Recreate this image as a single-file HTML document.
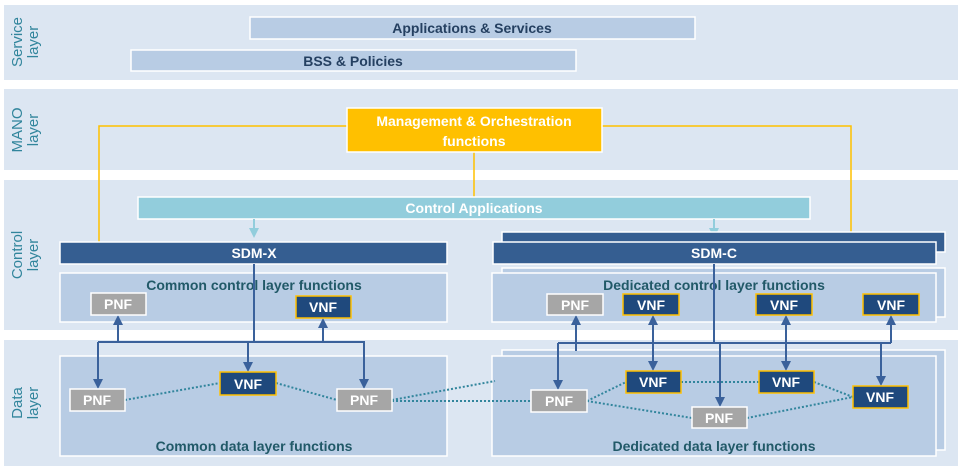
<!DOCTYPE html>
<html><head><meta charset="utf-8"><style>body{margin:0;background:#fff}svg{display:block}</style></head><body>
<svg width="962" height="470" viewBox="0 0 962 470" xmlns="http://www.w3.org/2000/svg" font-family="Liberation Sans, sans-serif" font-weight="bold">
<defs>
<marker id="a" markerWidth="10" markerHeight="10" refX="5" refY="5" orient="auto-start-reverse" markerUnits="userSpaceOnUse" viewBox="0 0 10 10"><path d="M0,0 L10,5 L0,10 z" fill="#3A619B"/></marker>
<marker id="b" markerWidth="10" markerHeight="10" refX="5" refY="5" orient="auto" markerUnits="userSpaceOnUse" viewBox="0 0 10 10"><path d="M0,0 L10,5 L0,10 z" fill="#92CDDC"/></marker>
</defs>
<rect x="4" y="5" width="954" height="75" fill="#DCE6F2"/>
<rect x="4" y="89" width="954" height="81" fill="#DCE6F2"/>
<rect x="4" y="180" width="954" height="150" fill="#DCE6F2"/>
<rect x="4" y="340" width="954" height="126" fill="#DCE6F2"/>
<g fill="#31859C" font-size="15" font-weight="normal" text-anchor="middle">
<text transform="translate(22,42) rotate(-90)">Service</text><text transform="translate(38,42) rotate(-90)">layer</text>
<text transform="translate(22,130) rotate(-90)">MANO</text><text transform="translate(38,130) rotate(-90)">layer</text>
<text transform="translate(22,255) rotate(-90)">Control</text><text transform="translate(38,255) rotate(-90)">layer</text>
<text transform="translate(22,403) rotate(-90)">Data</text><text transform="translate(38,403) rotate(-90)">layer</text>
</g>
<rect x="250" y="17" width="445" height="22" fill="#B8CCE4" stroke="#fff" stroke-width="1.5"/>
<text x="472" y="33" font-size="14" fill="#254061" text-anchor="middle">Applications &amp; Services</text>
<rect x="131" y="50" width="445" height="21" fill="#B8CCE4" stroke="#fff" stroke-width="1.5"/>
<text x="353" y="66" font-size="14" fill="#254061" text-anchor="middle">BSS &amp; Policies</text>
<polyline points="347,126 99,126 99,242" fill="none" stroke="#FFC000" stroke-width="1.5"/>
<polyline points="602,126 851,126 851,242" fill="none" stroke="#FFC000" stroke-width="1.5"/>
<line x1="474" y1="152" x2="474" y2="197" stroke="#FFC000" stroke-width="1.5"/>
<rect x="347" y="108" width="255" height="44" fill="#FFC000" stroke="#fff" stroke-width="1.5"/>
<text x="474" y="126" font-size="14" fill="#fff" text-anchor="middle">Management &amp; Orchestration</text>
<text x="474" y="146" font-size="14" fill="#fff" text-anchor="middle">functions</text>
<rect x="138" y="197" width="672" height="22" fill="#92CDDC" stroke="#fff" stroke-width="1.5"/>
<text x="474" y="213" font-size="14" fill="#fff" text-anchor="middle">Control Applications</text>
<line x1="254" y1="219" x2="254" y2="233" stroke="#92CDDC" stroke-width="2" marker-end="url(#b)"/>
<line x1="714" y1="219" x2="714" y2="233" stroke="#92CDDC" stroke-width="2" marker-end="url(#b)"/>
<rect x="502" y="232" width="443" height="20" fill="#355E91" stroke="#fff" stroke-width="1.5"/>
<rect x="60" y="242" width="387" height="22" fill="#355E91" stroke="#fff" stroke-width="1.5"/>
<text x="254" y="258" font-size="14" fill="#fff" text-anchor="middle">SDM-X</text>
<rect x="493" y="242" width="443" height="22" fill="#355E91" stroke="#fff" stroke-width="1.5"/>
<text x="714" y="258" font-size="14" fill="#fff" text-anchor="middle">SDM-C</text>
<rect x="60" y="273" width="387" height="49" fill="#B8CCE4" stroke="#fff" stroke-width="1.5"/>
<text x="254" y="290" font-size="14" fill="#215968" text-anchor="middle">Common control layer functions</text>
<rect x="502" y="268" width="443" height="49" fill="#B8CCE4" stroke="#fff" stroke-width="1.5"/>
<rect x="492" y="273" width="444" height="49" fill="#B8CCE4" stroke="#fff" stroke-width="1.5"/>
<text x="714" y="290" font-size="14" fill="#215968" text-anchor="middle">Dedicated control layer functions</text>
<rect x="60" y="356" width="387" height="100" fill="#B8CCE4" stroke="#fff" stroke-width="1.5"/>
<text x="254" y="451" font-size="14" fill="#215968" text-anchor="middle">Common data layer functions</text>
<rect x="502" y="350" width="443" height="100" fill="#B8CCE4" stroke="#fff" stroke-width="1.5"/>
<rect x="492" y="356" width="444" height="100" fill="#B8CCE4" stroke="#fff" stroke-width="1.5"/>
<text x="714" y="451" font-size="14" fill="#215968" text-anchor="middle">Dedicated data layer functions</text>
<g stroke="#31859C" stroke-width="2" stroke-dasharray="2,2" fill="none">
<line x1="125" y1="400" x2="220" y2="383"/>
<line x1="276" y1="383" x2="337" y2="400"/>
<line x1="392" y1="401" x2="531" y2="401"/>
<line x1="392" y1="400" x2="495" y2="381"/>
<line x1="587" y1="401" x2="626" y2="382"/>
<line x1="587" y1="401" x2="692" y2="418"/>
<line x1="681" y1="382" x2="759" y2="382"/>
<line x1="814" y1="382" x2="853" y2="397"/>
<line x1="747" y1="418" x2="853" y2="397"/>
</g>
<g stroke="#3A619B" stroke-width="2" fill="none">
<line x1="254" y1="264" x2="254" y2="342"/>
<line x1="98" y1="342" x2="365" y2="342"/>
<line x1="118" y1="342" x2="118" y2="320" marker-end="url(#a)"/>
<line x1="323" y1="342" x2="323" y2="323" marker-end="url(#a)"/>
<line x1="98" y1="342" x2="98" y2="384" marker-end="url(#a)"/>
<line x1="248" y1="342" x2="248" y2="367" marker-end="url(#a)"/>
<line x1="364" y1="342" x2="364" y2="384" marker-end="url(#a)"/>
<line x1="714" y1="264" x2="714" y2="343"/>
<line x1="558" y1="343" x2="891" y2="343"/>
<line x1="576" y1="351" x2="576" y2="320" marker-end="url(#a)"/>
<line x1="558" y1="343" x2="558" y2="385" marker-end="url(#a)"/>
<line x1="653" y1="320" x2="653" y2="366" marker-start="url(#a)" marker-end="url(#a)"/>
<line x1="720" y1="343" x2="720" y2="402" marker-end="url(#a)"/>
<line x1="786" y1="320" x2="786" y2="366" marker-start="url(#a)" marker-end="url(#a)"/>
<line x1="891" y1="343" x2="891" y2="320" marker-end="url(#a)"/>
<line x1="881" y1="343" x2="881" y2="381" marker-end="url(#a)"/>
</g>
<g font-size="14" fill="#fff" text-anchor="middle">
<g stroke="#fff" stroke-width="1.5" fill="#A6A6A6">
<rect x="91" y="293" width="55" height="22"/><rect x="547" y="294" width="56" height="21"/>
<rect x="70" y="389" width="55" height="22"/><rect x="337" y="389" width="55" height="22"/>
<rect x="531" y="390" width="56" height="22"/><rect x="692" y="407" width="55" height="21"/>
</g>
<g stroke="#FFC000" stroke-width="1.5" fill="#1F497D">
<rect x="296" y="296" width="55" height="22"/><rect x="623" y="294" width="56" height="21"/>
<rect x="756" y="294" width="56" height="21"/><rect x="863" y="294" width="56" height="21"/>
<rect x="220" y="372" width="56" height="23"/><rect x="626" y="371" width="55" height="22"/>
<rect x="759" y="371" width="55" height="22"/><rect x="853" y="386" width="55" height="22"/>
</g>
<text x="118" y="309">PNF</text><text x="575" y="310">PNF</text>
<text x="97" y="405">PNF</text><text x="364" y="405">PNF</text>
<text x="559" y="406">PNF</text><text x="719" y="423">PNF</text>
<text x="323" y="312">VNF</text><text x="651" y="310">VNF</text>
<text x="784" y="310">VNF</text><text x="891" y="310">VNF</text>
<text x="248" y="389">VNF</text><text x="653" y="387">VNF</text>
<text x="786" y="387">VNF</text><text x="880" y="402">VNF</text>
</g>
</svg>
</body></html>
